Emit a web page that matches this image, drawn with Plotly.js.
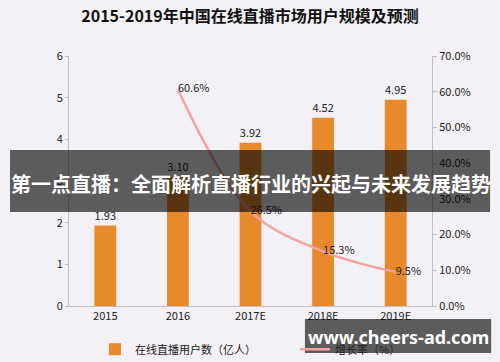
<!DOCTYPE html>
<html><head><meta charset="utf-8">
<script src="https://cdn.plot.ly/plotly-3.0.1.min.js"></script>
<style>html,body{margin:0;padding:0;background:#f3f1f5;}#c{width:500px;height:362px;}</style>
</head><body><div id="c"></div>
<script>
const categories = ['2015','2016','2017E','2018E','2019E'];
const users = [1.93, 3.10, 3.92, 4.52, 4.95];
const growthCats = ['2016','2017E','2018E','2019E'];
const growth = [60.6, 26.5, 15.3, 9.5];
const leftTicks = [0,1,2,3,4,5,6];
const rightTicks = [0,10,20,30,40,50,60,70];

const F = '"Noto Sans CJK SC", "Noto Sans", sans-serif';
const traces = [
  {type:'bar', x:categories, y:users, name:'在线直播用户数（亿人）', legend:'legend',
   marker:{color:'#e8892b'}, text:users.map(v=>v.toFixed(2)), textposition:'outside',
   textfont:{size:11,color:'#222',family:F}, cliponaxis:false, hoverinfo:'none'},
  {type:'scatter', mode:'lines+text', x:growthCats, y:growth, yaxis:'y2', name:'增长率（%）', legend:'legend2',
   line:{color:'#f4a3a3', width:2.5, shape:'spline'},
   text:growth.map(v=>v.toFixed(1)+'%'), textposition:'middle right',
   textfont:{size:11,color:'#222',family:F}, cliponaxis:false, hoverinfo:'none'}
];
const legendBase = {orientation:'h', xref:'container', xanchor:'left', yref:'container', y:0.035, yanchor:'middle', font:{size:11,family:F}, itemwidth:30, bgcolor:'rgba(0,0,0,0)'};
const layout = {
  width:500, height:362,
  paper_bgcolor:'#f3f1f5', plot_bgcolor:'#f3f1f5',
  margin:{l:69, r:68, t:56, b:56, autoexpand:false},
  font:{family:F, size:11, color:'#222'},
  title:{text:'<b>2015-2019年中国在线直播市场用户规模及预测</b>', x:0.5, xanchor:'center', y:0.955, yanchor:'middle', font:{size:16, color:'#111', family:F}},
  bargap:0.7,
  showlegend:true,
  legend:Object.assign({}, legendBase, {x:0.19}),
  legend2:Object.assign({}, legendBase, {x:0.59}),
  xaxis:{type:'category', showline:true, linecolor:'#bfbfbf', ticks:'', showgrid:false, tickfont:{size:11}, fixedrange:true},
  yaxis:{range:[0,6], tickvals:leftTicks, showline:true, linecolor:'#bfbfbf', ticks:'outside', ticklen:3, tickcolor:'#bfbfbf', showgrid:false, zeroline:false, tickfont:{size:11}},
  yaxis2:{range:[0,70], overlaying:'y', side:'right', tickvals:rightTicks, ticktext:rightTicks.map(v=>v.toFixed(1)+'%'), showline:true, linecolor:'#bfbfbf', ticks:'outside', ticklen:4, tickcolor:'#bfbfbf', showgrid:false, zeroline:false, tickfont:{size:11}},
  shapes:[
    {type:'rect', xref:'paper', yref:'paper', x0:-0.1625, x1:1.160, y0:0.376, y1:0.624, fillcolor:'rgba(0,0,0,0.62)', line:{width:0}, layer:'above'},
    {type:'rect', xref:'paper', yref:'paper', x0:0.650, x1:1.163, y0:-0.188, y1:-0.052, fillcolor:'rgba(0,0,0,0.62)', line:{width:0}, layer:'above'}
  ],
  annotations:[
    {text:'<b>第一点直播：全面解析直播行业的兴起与未来发展趋势</b>', xref:'paper', yref:'paper', x:0.5, y:0.49, xanchor:'center', yanchor:'middle', showarrow:false, font:{size:20, color:'#ffffff', family:F}},
    {text:'<b>www.cheers-ad.com</b>', xref:'paper', yref:'paper', x:0.907, y:-0.122, xanchor:'center', yanchor:'middle', showarrow:false, font:{size:18, color:'#ffffff', family:'"Noto Sans", sans-serif'}}
  ]
};
Plotly.newPlot('c', traces, layout, {displayModeBar:false, staticPlot:true});
</script></body></html>
